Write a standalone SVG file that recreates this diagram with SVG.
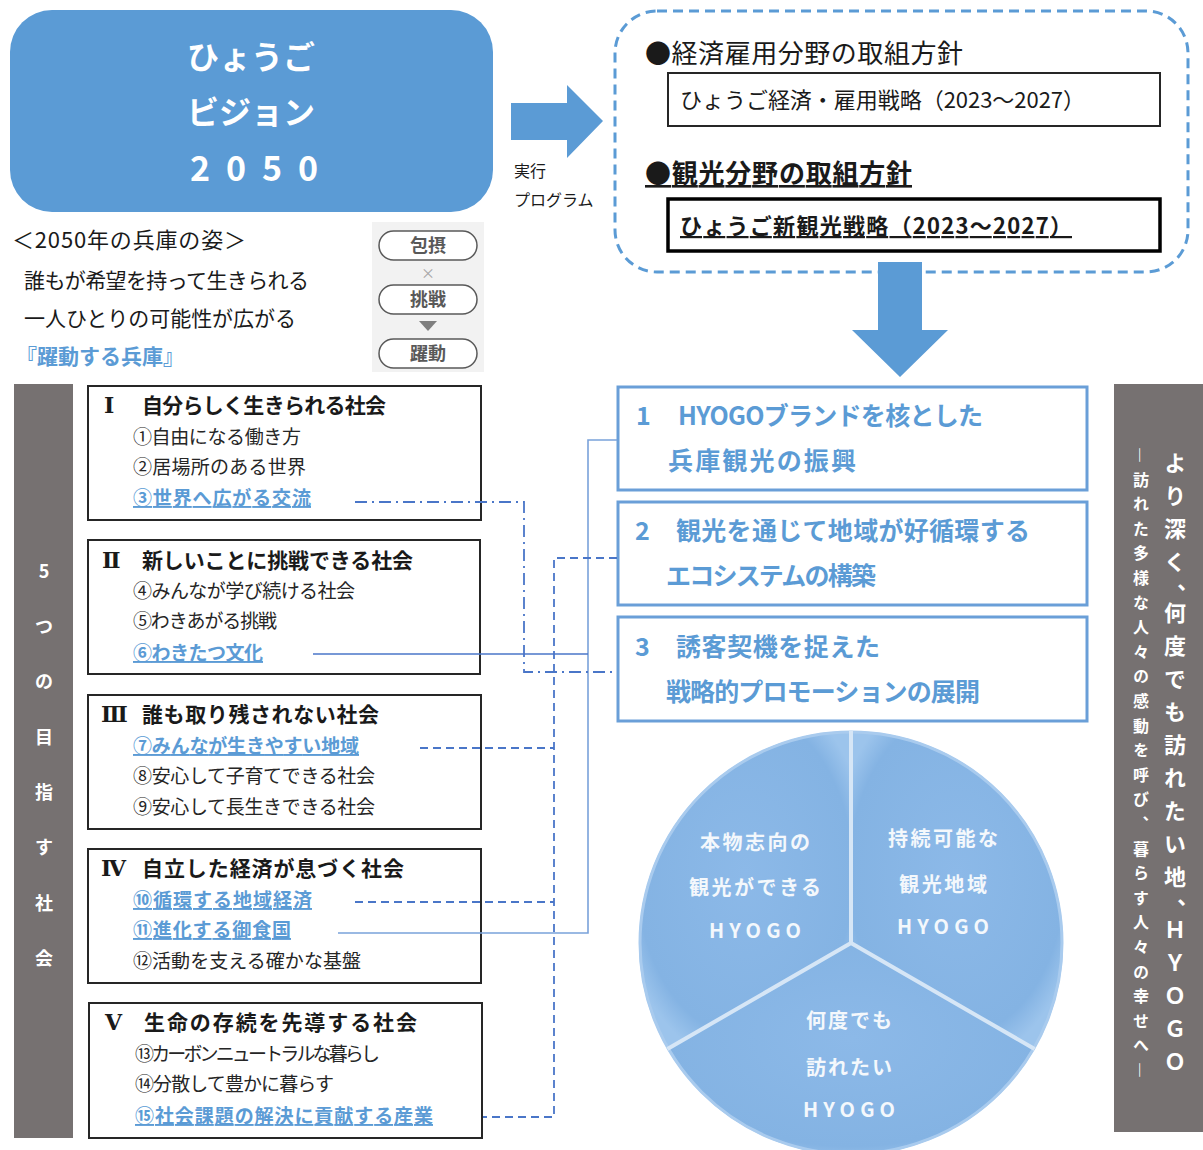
<svg xmlns="http://www.w3.org/2000/svg" width="1203" height="1150" viewBox="0 0 1203 1150">
<style>
text{font-family:"Noto Sans CJK JP","Noto Sans",sans-serif;}
.w{fill:#fff;font-weight:bold;}
.k{fill:#1a1a1a;}
.tb{fill:#1a1a1a;font-weight:bold;font-size:21px;}
.rn{fill:#1a1a1a;font-weight:bold;font-size:22px;font-family:"DejaVu Serif","Liberation Serif",serif;}
.it{fill:#262626;font-size:19px;}
.bl{fill:#5b9bd5;font-weight:bold;font-size:19px;text-decoration:underline;}
.box{fill:#fff;stroke:#262626;stroke-width:2;}
.rbox{fill:#fff;stroke:#6a9fd8;stroke-width:3;}
.rt{fill:#5b9bd5;font-weight:bold;font-size:25px;}
.pill{fill:#fff;stroke:#595959;stroke-width:1.5;}
.pt{fill:#595959;font-weight:bold;font-size:18px;text-anchor:middle;}
.pl{fill:#f4f8fc;font-weight:bold;font-size:20px;text-anchor:middle;}
.vt{writing-mode:vertical-rl;fill:#fff;font-weight:bold;}
.c{fill:none;stroke:#4a76c8;stroke-width:1.8;}
</style>
<defs>
<radialGradient id="pg" cx="0.5" cy="0.45" r="0.6">
<stop offset="0" stop-color="#8cb9e8"/>
<stop offset="0.85" stop-color="#84b3e3"/>
<stop offset="1" stop-color="#9cc4ec"/>
</radialGradient>
</defs>
<rect width="1203" height="1150" fill="#fff"/>

<g id="vision">
<rect x="10" y="10" width="483" height="202" rx="42" fill="#5b9bd5"/>
<text class="w" x="251" y="69" font-size="32" text-anchor="middle">ひょうご</text>
<text class="w" x="251" y="124" font-size="32" text-anchor="middle">ビジョン</text>
<text class="w" x="254" y="181" font-size="34" text-anchor="middle" textLength="128">2050</text>
</g>

<g id="arrow-right">
<polygon points="511,103 567,103 567,85 603,121 567,158 567,140 511,140" fill="#5b9bd5"/>
<text class="k" x="514" y="177" font-size="16">実行</text>
<text class="k" x="514" y="206" font-size="16">プログラム</text>
</g>

<g id="policies">
<rect x="615" y="11" width="573" height="261" rx="42" fill="none" stroke="#5b9bd5" stroke-width="3" stroke-dasharray="10 6"/>
<text class="k" x="645" y="63" font-size="26" textLength="318">●経済雇用分野の取組方針</text>
<rect x="668" y="73" width="492" height="53" fill="#fff" stroke="#262626" stroke-width="2"/>
<text class="k" x="680" y="108" font-size="22" textLength="405">ひょうご経済・雇用戦略（2023～2027）</text>
<text class="k" x="645" y="183" font-size="26" font-weight="bold" text-decoration="underline" textLength="267">●観光分野の取組方針</text>
<rect x="668" y="199" width="492" height="52" fill="#fff" stroke="#000" stroke-width="3.5"/>
<text class="k" x="680" y="234" font-size="22" font-weight="bold" text-decoration="underline" textLength="392">ひょうご新観光戦略（2023～2027）</text>
</g>

<g id="arrow-down">
<polygon points="878,262 922,262 922,330 948,330 900,377 852,330 878,330" fill="#5b9bd5"/>
</g>

<g id="vision-text">
<text class="k" x="12" y="248" font-size="22" textLength="234">＜2050年の兵庫の姿＞</text>
<text class="k" x="24" y="288" font-size="21" textLength="285">誰もが希望を持って生きられる</text>
<text class="k" x="24" y="326" font-size="21" textLength="272">一人ひとりの可能性が広がる</text>
<text x="16" y="364" font-size="21" font-weight="bold" fill="#5b9bd5" textLength="168">『躍動する兵庫』</text>
</g>

<g id="keywords">
<rect x="372" y="222" width="112" height="150" fill="#f2f2f2"/>
<rect class="pill" x="379" y="231" width="98" height="29" rx="14.5"/>
<text class="pt" x="428" y="252">包摂</text>
<text x="428" y="278" font-size="14" fill="#a6a6a6" text-anchor="middle">×</text>
<rect class="pill" x="379" y="285" width="98" height="29" rx="14.5"/>
<text class="pt" x="428" y="306">挑戦</text>
<polygon points="419,321 437,321 428,331" fill="#7f7f7f"/>
<rect class="pill" x="379" y="339" width="98" height="29" rx="14.5"/>
<text class="pt" x="428" y="360">躍動</text>
</g>

<g id="left-banner">
<rect x="14" y="384" width="59" height="754" fill="#767171"/>
<text class="w" font-size="18" text-anchor="middle">
<tspan x="44" y="578">5</tspan><tspan x="44" y="633">つ</tspan><tspan x="44" y="688">の</tspan><tspan x="44" y="744">目</tspan><tspan x="44" y="799">指</tspan><tspan x="44" y="854">す</tspan><tspan x="44" y="910">社</tspan><tspan x="44" y="965">会</tspan>
</text>
</g>

<g id="society-1">
<rect class="box" x="88" y="386" width="393" height="134"/>
<text class="rn" x="104" y="413">Ⅰ</text>
<text class="tb" x="142" y="413" textLength="244">自分らしく生きられる社会</text>
<text class="it" x="133" y="444" textLength="168">①自由になる働き方</text>
<text class="it" x="133" y="474" textLength="173">②居場所のある世界</text>
<text class="bl" x="133" y="505" textLength="178">③世界へ広がる交流</text>
</g>
<g id="society-2">
<rect class="box" x="88" y="540" width="392" height="134"/>
<text class="rn" x="102" y="568">Ⅱ</text>
<text class="tb" x="142" y="568" textLength="271">新しいことに挑戦できる社会</text>
<text class="it" x="133" y="598" textLength="222">④みんなが学び続ける社会</text>
<text class="it" x="133" y="628" textLength="144">⑤わきあがる挑戦</text>
<text class="bl" x="133" y="660" textLength="130">⑥わきたつ文化</text>
</g>
<g id="society-3">
<rect class="box" x="88" y="695" width="393" height="134"/>
<text class="rn" x="101" y="722">Ⅲ</text>
<text class="tb" x="142" y="722" textLength="237">誰も取り残されない社会</text>
<text class="bl" x="133" y="753" textLength="226">⑦みんなが生きやすい地域</text>
<text class="it" x="133" y="783" textLength="242">⑧安心して子育てできる社会</text>
<text class="it" x="133" y="814" textLength="242">⑨安心して長生きできる社会</text>
</g>
<g id="society-4">
<rect class="box" x="88" y="849" width="393" height="134"/>
<text class="rn" x="101" y="876">Ⅳ</text>
<text class="tb" x="142" y="876" textLength="262">自立した経済が息づく社会</text>
<text class="bl" x="133" y="907" textLength="179">⑩循環する地域経済</text>
<text class="bl" x="133" y="937" textLength="158">⑪進化する御食国</text>
<text class="it" x="133" y="968" textLength="228">⑫活動を支える確かな基盤</text>
</g>
<g id="society-5">
<rect class="box" x="89" y="1003" width="393" height="135"/>
<text class="rn" x="105" y="1030">Ⅴ</text>
<text class="tb" x="144" y="1030" textLength="273">生命の存続を先導する社会</text>
<text class="it" x="135" y="1061" textLength="245">⑬カーボンニュートラルな暮らし</text>
<text class="it" x="135" y="1091" textLength="199">⑭分散して豊かに暮らす</text>
<text class="bl" x="135" y="1123" textLength="298">⑮社会課題の解決に貢献する産業</text>
</g>

<g id="strategy-1">
<rect class="rbox" x="618" y="387" width="469" height="103"/>
<text class="rt" x="636" y="425">1</text>
<text class="rt" x="678" y="425" textLength="305">HYOGOブランドを核とした</text>
<text class="rt" x="668" y="470" textLength="188">兵庫観光の振興</text>
</g>
<g id="strategy-2">
<rect class="rbox" x="618" y="502" width="469" height="103"/>
<text class="rt" x="635" y="540">2</text>
<text class="rt" x="676" y="540" textLength="354">観光を通じて地域が好循環する</text>
<text class="rt" x="666" y="585" textLength="210">エコシステムの構築</text>
</g>
<g id="strategy-3">
<rect class="rbox" x="618" y="617" width="469" height="104"/>
<text class="rt" x="635" y="656">3</text>
<text class="rt" x="676" y="656" textLength="204">誘客契機を捉えた</text>
<text class="rt" x="666" y="701" textLength="314">戦略的プロモーションの展開</text>
</g>

<g id="connectors">
<path d="M617,440 H588 V933 H338" fill="none" stroke="#7aa2da" stroke-width="1.6"/>
<path d="M313,654 H588" fill="none" stroke="#4a76c8" stroke-width="1.6"/>
<path class="c" d="M355,502 H524 V672 H617" stroke-dasharray="12 5 2 5"/>
<path class="c" d="M617,558 H554 V1117 H483" stroke-dasharray="8 5"/>
<path class="c" d="M420,748 H554" stroke-dasharray="8 5"/>
<path class="c" d="M355,902 H554" stroke-dasharray="8 5"/>
</g>

<g id="pie">
<path d="M851,943 L851,731 A212,212 0 0 0 667.4,1049 Z" fill="url(#pg)"/>
<path d="M851,943 L851,731 A212,212 0 0 1 1034.6,1049 Z" fill="url(#pg)"/>
<path d="M851,943 L667.4,1049 A212,212 0 0 0 1034.6,1049 Z" fill="url(#pg)"/>
<circle cx="851" cy="943" r="211" fill="none" stroke="#a9cbee" stroke-width="3"/>
<path d="M851,943 V731 M851,943 L667.4,1049 M851,943 L1034.6,1049" stroke="#d6e6f6" stroke-width="4" fill="none"/>
<text class="pl" x="755" y="850" textLength="110">本物志向の</text>
<text class="pl" x="755" y="895" textLength="132">観光ができる</text>
<text class="pl" x="755" y="938" font-size="18" textLength="92">HYOGO</text>
<text class="pl" x="943" y="846" textLength="110">持続可能な</text>
<text class="pl" x="943" y="892" textLength="88">観光地域</text>
<text class="pl" x="943" y="934" font-size="18" textLength="92">HYOGO</text>
<text class="pl" x="849" y="1028" textLength="86">何度でも</text>
<text class="pl" x="849" y="1075" textLength="86">訪れたい</text>
<text class="pl" x="849" y="1117" font-size="18" textLength="92">HYOGO</text>
</g>

<g id="right-banner">
<rect x="1114" y="384" width="89" height="748" fill="#767171"/>
<text class="vt" x="1175" y="452" font-size="22" letter-spacing="11">より深く、</text>
<text class="vt" x="1175" y="602" font-size="22" letter-spacing="11">何度でも訪れたい地、</text>
<text class="vt" x="1175" y="919" font-size="22" letter-spacing="11">ＨＹＯＧＯ</text>
<text class="vt" x="1141" y="447" font-size="16" letter-spacing="8.6">―訪れた多様な人々の感動を呼び、暮らす人々の幸せへ―</text>
</g>
</svg>
